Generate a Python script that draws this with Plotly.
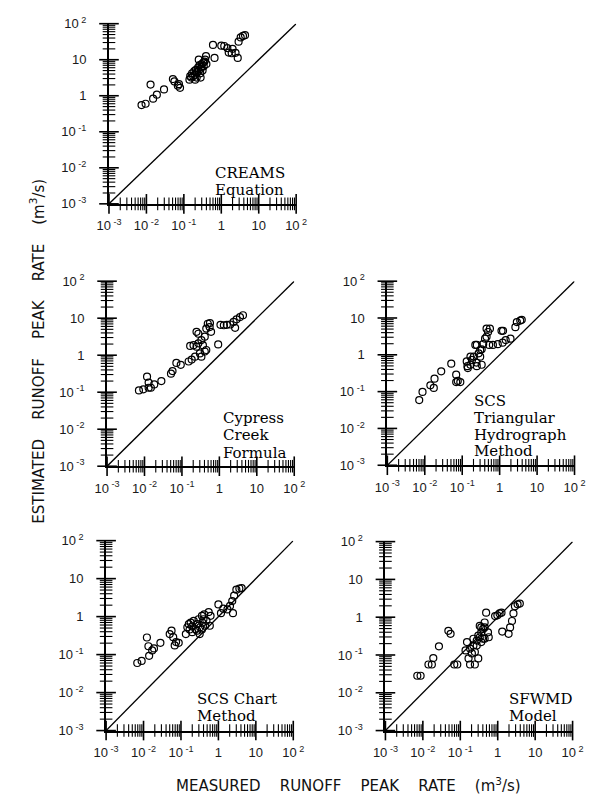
import plotly.graph_objects as go

# ---------------- data (m^3/s) ----------------
creams_x = [0.0074, 0.0095, 0.0129, 0.0151, 0.019, 0.0295, 0.051, 0.056, 0.069, 0.079, 0.074,
            0.141, 0.148, 0.158, 0.166, 0.178, 0.19, 0.20, 0.21, 0.22, 0.224, 0.24, 0.25, 0.25, 0.263,
            0.275, 0.28, 0.295, 0.30, 0.316, 0.33, 0.34, 0.355, 0.37, 0.39, 0.40, 0.28, 0.20,
            0.60, 0.66, 1.0, 1.2, 1.45, 1.58, 2.0, 2.4, 2.75, 2.9, 3.3, 3.8, 4.3, 1.9]
creams_y = [0.55, 0.60, 2.04, 0.83, 1.07, 1.5, 2.9, 2.5, 1.9, 1.66, 2.1,
            2.8, 3.5, 3.2, 4.2, 3.5, 4.8, 3.8, 5.2, 3.2, 4.5, 6.0, 5.0, 10.0, 7.1,
            4.2, 5.6, 6.3, 7.6, 5.0, 8.3, 6.6, 8.9, 10.0, 12.6, 7.6, 3.2, 2.8,
            25.7, 11.2, 24.5, 24.0, 21.0, 15.8, 20.0, 15.5, 11.2, 31.6, 41.7, 45.7, 47.9, 15.1]

cypress_x = [0.0071, 0.0093, 0.0117, 0.0129, 0.0148, 0.0182, 0.0282, 0.0129, 0.051, 0.056, 0.071, 0.093,
             0.151, 0.182, 0.166, 0.204, 0.245, 0.275, 0.302, 0.331, 0.407, 0.447, 0.49, 0.55, 0.60,
             0.275, 0.224, 0.331, 0.407, 0.245, 0.363, 0.447, 0.56,
             0.93, 1.07, 1.32, 1.58, 1.95, 2.63, 2.4, 2.88, 3.55, 4.27]
cypress_y = [0.112, 0.12, 0.263, 0.182, 0.132, 0.162, 0.20, 0.132, 0.316, 0.372, 0.617, 0.55,
             0.676, 0.76, 1.78, 1.86, 4.27, 2.09, 1.12, 2.57, 3.16, 5.25, 7.08, 5.75, 4.27,
             3.8, 0.91, 0.91, 1.26, 1.7, 1.86, 1.38, 7.4,
             1.95, 6.6, 6.45, 6.6, 6.76, 5.5, 7.94, 9.33, 10.7, 12.0]

tri_x = [0.0071, 0.0087, 0.0141, 0.0174, 0.0182, 0.0275, 0.051, 0.069, 0.076, 0.089, 0.069,
         0.132, 0.141, 0.166, 0.182, 0.204, 0.24, 0.245, 0.275, 0.302, 0.331, 0.363, 0.407, 0.447, 0.447,
         0.49, 0.525, 0.302, 0.224, 0.166, 0.138, 0.245, 0.331, 0.55,
         0.66, 0.89, 1.2, 1.12, 1.23, 1.45, 1.95, 2.63, 2.88, 3.55, 3.89]
tri_y = [0.059, 0.098, 0.148, 0.126, 0.224, 0.355, 0.575, 0.288, 0.195, 0.182, 0.182,
         0.66, 0.437, 0.537, 0.724, 0.89, 0.617, 1.86, 1.1, 0.89, 1.41, 1.95, 2.75, 3.09, 5.13,
         4.17, 1.86, 1.35, 1.86, 0.89, 0.49, 0.49, 0.537, 5.13,
         1.86, 1.95, 2.14, 4.47, 4.47, 2.51, 2.75, 5.62, 7.76, 8.51, 8.91]

chart_x = [0.0068, 0.0089, 0.0123, 0.0135, 0.0141, 0.017, 0.019, 0.0282, 0.05, 0.056, 0.062, 0.068, 0.074, 0.087,
           0.135, 0.148, 0.17, 0.182, 0.20, 0.219, 0.245, 0.269, 0.295, 0.316, 0.324, 0.363, 0.372, 0.398,
           0.417, 0.437, 0.479, 0.55, 0.589, 0.617, 0.162, 0.20, 0.269, 0.363,
           1.0, 1.17, 1.35, 1.74, 2.04, 2.45, 2.34, 2.63, 3.02, 3.63, 4.17]
chart_y = [0.06, 0.068, 0.282, 0.166, 0.093, 0.129, 0.145, 0.204, 0.347, 0.427, 0.288, 0.174, 0.214, 0.204,
           0.347, 0.525, 0.457, 0.692, 0.55, 0.776, 0.468, 0.631, 0.851, 0.347, 0.525, 1.05, 0.692, 0.851,
           1.15, 0.575, 0.776, 1.32, 0.575, 1.05, 0.631, 0.389, 0.427, 0.457,
           2.09, 1.23, 1.62, 1.55, 1.91, 1.23, 2.57, 3.55, 5.13, 5.5, 5.62]

sfwmd_x = [0.0071, 0.0087, 0.0141, 0.0174, 0.019, 0.0269, 0.048, 0.055, 0.069, 0.083,
           0.138, 0.151, 0.166, 0.182, 0.182, 0.224, 0.245, 0.275, 0.302, 0.331, 0.363, 0.407, 0.447,
           0.49, 0.447, 0.363, 0.302, 0.224, 0.204, 0.245, 0.407, 0.55, 0.275, 0.331, 0.575, 0.363, 0.447,
           0.851, 0.977, 1.12, 1.26, 1.32, 1.95, 2.14, 2.4, 2.63, 2.88, 3.39, 3.89]
sfwmd_y = [0.0282, 0.0282, 0.056, 0.056, 0.083, 0.17, 0.437, 0.363, 0.056, 0.056,
           0.132, 0.219, 0.081, 0.148, 0.056, 0.269, 0.056, 0.178, 0.081, 0.295, 0.398, 0.49, 0.724,
           1.32, 0.269, 0.219, 0.324, 0.178, 0.11, 0.12, 0.269, 0.398, 0.24, 0.589, 0.295, 0.537, 0.537,
           1.07, 1.12, 1.26, 1.32, 0.417, 0.363, 0.537, 0.794, 1.26, 1.95, 2.19, 2.29]

panel_labels = [["CREAMS", "Equation"],
                ["Cypress", "Creek", "Formula"],
                ["SCS", "Triangular", "Hydrograph", "Method"],
                ["SCS Chart", "Method"],
                ["SFWMD", "Model"]]

major_vals = [0.001, 0.01, 0.1, 1, 10, 100]
major_text = ["10<sup> -3</sup>", "10<sup> -2</sup>", "10<sup> -1</sup>", "1", "10", "10<sup> 2</sup>"]
minor_mult = [2, 3, 4, 5, 6, 7, 8, 9]
axis_min = 0.001
line_ends = [0.001, 100]

gap = "&nbsp;" * 4
x_title = gap.join(["MEASURED", "RUNOFF", "PEAK", "RATE", "(m<sup>3</sup>/s)"])
y_title = gap.join(["ESTIMATED", "RUNOFF", "PEAK", "RATE", "(m<sup>3</sup>/s)"])

minor_vals = [v * mm for v in major_vals[:-1] for mm in minor_mult]

# ---------------- layout geometry (pixels) ----------------
W, H = 598, 812
boxes = [(100, 295, 15, 199),
         (98, 293, 278, 467),
         (390, 585, 278, 466),
         (97, 292, 543, 737),
         (388, 583, 544, 737)]
label_pos = [(208, 168, 17), (217, 418, 17.5), (478, 400, 17.3), (190, 705, 17), (515, 705, 17.5)]

series = [(creams_x, creams_y), (cypress_x, cypress_y), (tri_x, tri_y),
          (chart_x, chart_y), (sfwmd_x, sfwmd_y)]

fig = go.Figure()
layout = dict(width=W, height=H, margin=dict(l=0, r=0, t=0, b=0),
              paper_bgcolor="white", plot_bgcolor="white", showlegend=False)

tick_font = dict(family="Liberation Sans, Arial, sans-serif", size=13, color="#1a1a1a")
annotations = []

for i, ((xs, ys), (l, r, t, b)) in enumerate(zip(series, boxes)):
    n = "" if i == 0 else str(i + 1)
    xa, ya = "x" + n, "y" + n
    # tick marks drawn as short line markers sitting on the axis lines
    for vals, sz, wd in ((major_vals, 14, 1.6), (minor_vals, 9, 1.1)):
        fig.add_trace(go.Scatter(x=vals, y=[axis_min] * len(vals), mode="markers",
                                 cliponaxis=False, hoverinfo="skip",
                                 marker=dict(symbol="line-ns", size=sz, color="black",
                                             line=dict(width=wd, color="black")),
                                 xaxis=xa, yaxis=ya))
        fig.add_trace(go.Scatter(x=[axis_min] * len(vals), y=vals, mode="markers",
                                 cliponaxis=False, hoverinfo="skip",
                                 marker=dict(symbol="line-ew", size=sz, color="black",
                                             line=dict(width=wd, color="black")),
                                 xaxis=xa, yaxis=ya))
    fig.add_trace(go.Scatter(x=line_ends, y=line_ends, mode="lines",
                             line=dict(color="black", width=1.3),
                             xaxis=xa, yaxis=ya, hoverinfo="skip"))
    fig.add_trace(go.Scatter(x=xs, y=ys, mode="markers",
                             marker=dict(symbol="circle-open", size=7, color="black",
                                         line=dict(width=1.2, color="black")),
                             xaxis=xa, yaxis=ya))
    base = dict(type="log", range=[-3, 2], showgrid=False, zeroline=False,
                showline=True, linecolor="black", linewidth=2,
                ticks="outside", tickcolor="rgba(0,0,0,0)",
                tickfont=tick_font, tickmode="array",
                tickvals=major_vals, ticktext=major_text)
    layout["xaxis" + n] = dict(base, domain=[l / W, r / W], anchor=ya, ticklen=9)
    layout["yaxis" + n] = dict(base, domain=[1 - b / H, 1 - t / H], anchor=xa, ticklen=18)

    lx, ly, sp = label_pos[i]
    for k, txt in enumerate(panel_labels[i]):
        annotations.append(dict(text=txt, x=lx / W, y=1 - (ly + k * sp) / H,
                                xref="paper", yref="paper", xanchor="left", yanchor="middle",
                                showarrow=False,
                                font=dict(family="DejaVu Serif, serif", size=15, color="black")))

annotations.append(dict(text=x_title, x=350 / W, y=1 - 793 / H, xref="paper", yref="paper",
                        xanchor="center", yanchor="middle", showarrow=False,
                        font=dict(family="DejaVu Sans, sans-serif", size=15, color="#111")))
annotations.append(dict(text=y_title, x=25 / W, y=1 - 349 / H, xref="paper", yref="paper",
                        xanchor="center", yanchor="middle", showarrow=False, textangle=-90,
                        font=dict(family="DejaVu Sans, sans-serif", size=15, color="#111")))
layout["annotations"] = annotations

fig.update_layout(**layout)
fig.write_html("out.html")
